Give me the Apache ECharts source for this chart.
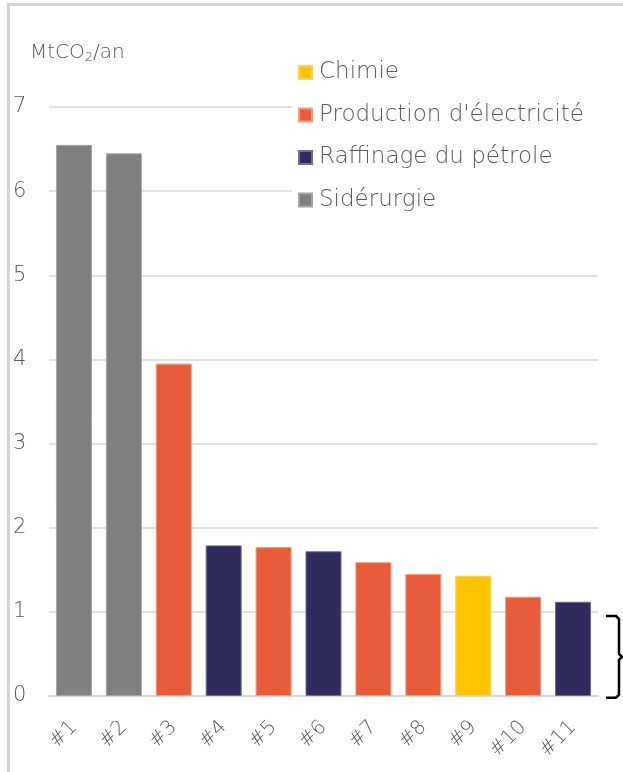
<!DOCTYPE html>
<html>
<head>
<meta charset="utf-8">
<script src="https://cdn.jsdelivr.net/npm/echarts@6/dist/echarts.min.js"></script>
<style>
html,body{margin:0;padding:0;background:#fff;}
#c{width:623px;height:772px;}
</style>
</head>
<body>
<div id="c"></div>
<script>
const categories = ['#1','#2','#3','#4','#5','#6','#7','#8','#9','#10','#11'];
const values = [6.55, 6.45, 3.95, 1.79, 1.77, 1.72, 1.59, 1.45, 1.43, 1.18, 1.12];
const barSectors = ['Sidérurgie','Sidérurgie',"Production d'électricité",'Raffinage du pétrole',"Production d'électricité",'Raffinage du pétrole',"Production d'électricité","Production d'électricité",'Chimie',"Production d'électricité",'Raffinage du pétrole'];
const sectors = ['Chimie', "Production d'électricité", 'Raffinage du pétrole', 'Sidérurgie'];
const sectorColors = ['#FFC400', '#E95C39', '#302D5E', '#808080'];
const sectorBorders = ['#FFD24D', '#F39A83', '#6F6C95', '#A6A6A6'];
const yTicks = [0,1,2,3,4,5,6,7];
const unitMain = 'MtCO';
const unitSub = '2';
const unitTail = '/an';

const FONT = "'DejaVu Sans', 'Open Sans', sans-serif";
const W = 200;
const TXT = '#595959';

const series = sectors.map((s, si) => ({
  name: s,
  type: 'bar',
  barWidth: 36,
  barGap: '-100%',
  itemStyle: { color: sectorColors[si], borderColor: sectorBorders[si], borderWidth: 1 },
  data: values.map((v, i) => barSectors[i] === s ? v : '-')
}));

const frame = { type: 'rect', silent: true, z: 100,
  shape: { x: 8.5, y: 4.5, width: 800, height: 900 },
  style: { fill: 'none', stroke: '#D4D4D4', lineWidth: 3 } };
const unit = { type: 'text', left: 30, top: 43, z: 100,
  style: {
    text: unitMain + '{s|' + unitSub + '}' + unitTail,
    fontFamily: FONT, fontWeight: W, fontSize: 20, fill: TXT,
    rich: { s: { fontFamily: FONT, fontWeight: W, fontSize: 13, fill: TXT, padding: [10, 0, 0, 0] } }
  } };
const legendMask = { type: 'rect', silent: true, z: 1,
  shape: { x: 292, y: 48, width: 307, height: 172 },
  style: { fill: '#fff' } };

const chart = echarts.init(document.getElementById('c'), null, {renderer: 'canvas'});
const option = {
  animation: false,
  backgroundColor: '#fff',
  grid: { left: 49, right: 25, top: 107, bottom: 76, containLabel: false },
  legend: {
    orient: 'vertical',
    left: 293,
    top: 56,
    padding: [5, 5, 5, 5],
    itemWidth: 13,
    itemHeight: 13,
    itemGap: 19.5,
    icon: 'rect',
    textStyle: { fontFamily: FONT, fontWeight: W, fontSize: 23, color: TXT, padding: [0, 0, 0, 2] },
    data: sectors
  },
  xAxis: {
    type: 'category',
    data: categories,
    axisLine: { lineStyle: { color: '#D9D9D9', width: 2 } },
    axisTick: { show: false },
    axisLabel: { rotate: 45, fontFamily: FONT, fontWeight: W, fontSize: 20, color: TXT, margin: 28, interval: 0 }
  },
  yAxis: {
    type: 'value',
    min: 0, max: 7, interval: 1,
    axisLine: { show: false },
    axisTick: { show: false },
    splitLine: { lineStyle: { color: '#D9D9D9', width: 1.5 } },
    axisLabel: {
      fontFamily: FONT, fontWeight: W, fontSize: 21, color: TXT, align: 'left', margin: 36,
      formatter: v => yTicks.includes(v) ? String(v) : ''
    }
  },
  graphic: [frame, unit, legendMask],
  series: series
};
chart.setOption(option);

// bracket annotation spanning the lowest band of the value axis
const yTop = chart.convertToPixel({yAxisIndex: 0}, 0.95);
const yBot = chart.convertToPixel({yAxisIndex: 0}, -0.02);
const xR = 619, xL = 606, mid = (yTop + yBot) / 2;
chart.setOption({
  graphic: [frame, unit, legendMask,
    { type: 'polyline', z: 100, silent: true,
      shape: { points: [[xL, yTop], [xR - 3, yTop], [xR, yTop + 3], [xR, mid - 3], [xR + 3, mid], [xR, mid + 3], [xR, yBot - 3], [xR - 3, yBot], [xL, yBot]] },
      style: { stroke: '#000', lineWidth: 2.5, fill: 'none' } }
  ]
});
</script>
</body>
</html>
